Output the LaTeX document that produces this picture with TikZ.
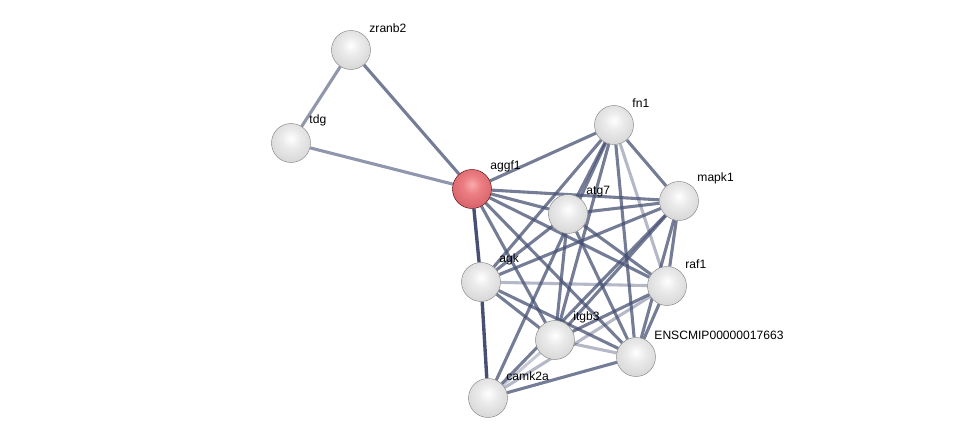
\documentclass[tikz,border=0pt]{standalone}
\usepackage{fontspec}
\setmainfont{Liberation Sans}
\usetikzlibrary{backgrounds}
\definecolor{edgeblue}{RGB}{70,80,115}
\pgfdeclareradialshading{greyball}{\pgfpoint{0bp}{6bp}}{%
    color(0bp)=(white); color(12bp)=(white!92!black);
    color(30bp)=(white!84!black); color(42bp)=(white!74!black);
    color(50bp)=(white!58!black); color(56bp)=(white!42!black); color(100bp)=(white!42!black)}
\pgfdeclareradialshading{redball}{\pgfpoint{0bp}{6bp}}{%
    color(0bp)=(rgb,255:red,250;green,170;blue,172); color(12bp)=(rgb,255:red,235;green,125;blue,130);
    color(30bp)=(rgb,255:red,215;green,98;blue,105); color(42bp)=(rgb,255:red,195;green,75;blue,85);
    color(50bp)=(rgb,255:red,160;green,45;blue,55); color(56bp)=(rgb,255:red,120;green,25;blue,35);
    color(100bp)=(rgb,255:red,120;green,25;blue,35)}
\tikzset{
    prot/.style={circle, minimum size=0.975cm, inner sep=0pt, shading=greyball, draw=black!50, line width=0.3pt},
    hit/.style={prot, shading=redball, draw=red!30!black},
    lbl/.style={font=\fontsize{8.6}{10}\selectfont, inner sep=1pt, xshift=2pt, yshift=1pt},
    link/.style={draw=edgeblue, line width=2.2pt, opacity=0.75},
    weak/.style={link, opacity=0.4},
    strong/.style={link, opacity=1, line width=2.4pt}
}
\begin{document}
\begin{tikzpicture}[x=0.025cm, y=-0.025cm]
    \useasboundingbox (0,0) rectangle (975,444);

    % proteins
    \node[prot, label={[lbl]45:zranb2}] (zranb2) at (351,50) {};
    \node[prot, label={[lbl]45:tdg}] (tdg) at (291,143) {};
    \node[hit, label={[lbl]45:aggf1}] (aggf1) at (472,189) {};
    \node[prot, label={[lbl]45:fn1}] (fn1) at (614,125) {};
    \node[prot, label={[lbl]45:mapk1}] (mapk1) at (679,201) {};
    \node[prot, label={[lbl]45:atg7}] (atg7) at (568,214) {};
    \node[prot, label={[lbl]45:agk}] (agk) at (481,282) {};
    \node[prot, label={[lbl]45:raf1}] (raf1) at (667,286) {};
    \node[prot, label={[lbl]45:itgb3}] (itgb3) at (555,340) {};
    \node[prot, label={[lbl]45:ENSCMIP00000017663}] (enscmip) at (636,357) {};
    \node[prot, label={[lbl]45:camk2a}] (camk2a) at (488,398) {};

    % interactions
    \begin{pgfonlayer}{background}
        \draw[weak, opacity=0.6] (zranb2) -- (tdg);
        \draw[link] (zranb2) -- (aggf1);
        \draw[link, opacity=0.6] (tdg) -- (aggf1);
        \foreach \b in {fn1,mapk1,atg7,raf1,enscmip,itgb3}
            \draw[link] (aggf1) -- (\b);
        \draw[strong] (aggf1) -- (agk);
        \foreach \b in {mapk1,atg7,agk,itgb3,enscmip,camk2a}
            \draw[link] (fn1) -- (\b);
        \draw[weak] (fn1) -- (raf1);
        \foreach \b in {atg7,agk,itgb3,raf1,enscmip,camk2a}
            \draw[link] (mapk1) -- (\b);
        \foreach \b in {agk,raf1,enscmip,itgb3}
            \draw[link] (atg7) -- (\b);
        \draw[weak] (agk) -- (raf1);
        \draw[link] (agk) -- (itgb3);
        \draw[link] (agk) -- (enscmip);
        \draw[strong] (agk) -- (camk2a);
        \draw[link] (raf1) -- (itgb3);
        \draw[link] (raf1) -- (enscmip);
        \draw[weak] (raf1) -- (camk2a);
        \draw[weak] (itgb3) -- (enscmip);
        \draw[weak, opacity=0.3] (itgb3) -- (camk2a);
        \draw[link] (enscmip) -- (camk2a);
    \end{pgfonlayer}
\end{tikzpicture}
\end{document}
